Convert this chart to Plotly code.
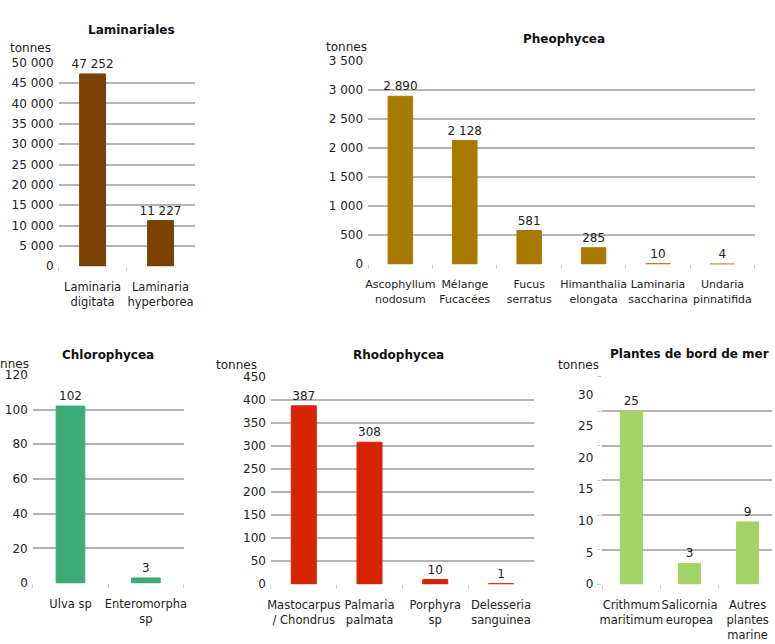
import plotly.graph_objects as go

W, H = 775, 644

# ---- data ----
lam_cats = ["Laminaria<br>digitata", "Laminaria<br>hyperborea"]
lam_vals = [47252, 11227]

pheo_cats = ["Ascophyllum<br>nodosum", "Mélange<br>Fucacées", "Fucus<br>serratus",
             "Himanthalia<br>elongata", "Laminaria<br>saccharina", "Undaria<br>pinnatifida"]
pheo_vals = [2890, 2128, 581, 285, 10, 4]

chloro_cats = ["Ulva sp", "Enteromorpha<br>sp"]
chloro_vals = [102, 3]

rhodo_cats = ["Mastocarpus<br>/ Chondrus", "Palmaria<br>palmata", "Porphyra<br>sp", "Delesseria<br>sanguinea"]
rhodo_vals = [387, 308, 10, 1]

plantes_cats = ["Crithmum<br>maritimum", "Salicornia<br>europea", "Autres<br>plantes<br>marine"]
plantes_vals = [25, 3, 9]

titles = ["Laminariales", "Pheophycea", "Chlorophycea", "Rhodophycea", "Plantes de bord de mer"]
colors = ["#7A4100", "#A87A00", "#3DAA78", "#D92300", "#A2D465"]

FONT = "DejaVu Sans"
TXT = "#222222"
GRID = "#b4b4b4"


def px(x):
    return x / W


def py(y):
    return 1 - y / H


fig = go.Figure()

panels = [
    # cats, vals, x-domain px, y-domain px (bottom, top), yrange, dtick, xrange, xtick size
    (lam_cats, lam_vals, (56, 193), (265, 57), (0, 50000), 5000, None, 11.5),
    (pheo_cats, pheo_vals, (368, 757.5), (263, 55), (0, 3500), 500, None, 11),
    (chloro_cats, chloro_vals, (30, 182), (589, 376), (0, 120), 20, None, 11.5),
    (rhodo_cats, rhodo_vals, (270, 535), (590, 378), (0, 450), 50, None, 11.5),
    (plantes_cats, plantes_vals, (604, 775), (590, 378), (0, 30), 5, (-0.5, 2.42), 11.5),
]

layout_axes = {}
for i, (cats, vals, xd, yd, yr, dt, xr, fs) in enumerate(panels):
    n = i + 1
    xa = "x" if n == 1 else f"x{n}"
    ya = "y" if n == 1 else f"y{n}"
    fig.add_trace(go.Bar(
        x=cats, y=vals, xaxis=xa, yaxis=ya,
        marker=dict(color=colors[i], line=dict(color=colors[i], width=1)),
        width=0.38,
        text=vals, texttemplate="%{y:,}", textposition="outside",
        textfont=dict(family=FONT, size=12, color=TXT),
        constraintext="none",
        cliponaxis=False, showlegend=False, hoverinfo="skip",
    ))
    xkey = "xaxis" if n == 1 else f"xaxis{n}"
    ykey = "yaxis" if n == 1 else f"yaxis{n}"
    layout_axes[xkey] = dict(
        domain=[px(xd[0]), px(xd[1])], anchor=ya,
        showgrid=False, zeroline=False, showline=False,
        ticks="outside", ticklen=4, tickcolor="#d0d0d0", tickson="boundaries",
        tickangle=0,
        tickfont=dict(family=FONT, size=fs, color=TXT),
        ticklabelstandoff=12, fixedrange=True,
        **({"range": list(xr)} if xr else {}),
    )
    ydict = dict(
        domain=[py(yd[0]), py(yd[1])], anchor=xa,
        range=list(yr), dtick=dt, tick0=0,
        showgrid=True, gridcolor=GRID, gridwidth=1.5,
        zeroline=True, zerolinecolor="white", zerolinewidth=2,
        showline=False, tickformat=",d",
        tickfont=dict(family=FONT, size=12, color=TXT),
        ticks="", ticklabelstandoff=4, fixedrange=True,
    )
    if n == 5:
        # gridlines + small marks on this axis, labels on an overlay axis
        ydict.update(showticklabels=False, ticks="outside", ticklen=4, tickcolor="#c8c8c8")
    layout_axes[ykey] = ydict

# overlay label axis for the last panel (labels are offset from gridlines in the source)
fig.add_trace(go.Scatter(x=plantes_cats, y=plantes_vals, xaxis="x5", yaxis="y6",
                         mode="markers", marker=dict(opacity=0), showlegend=False,
                         hoverinfo="skip"))
layout_axes["yaxis6"] = dict(
    overlaying="y5", anchor="x5", side="left",
    range=[0, 30 * (590 - 378) / (590 - 396)], dtick=5, tick0=0,
    showgrid=False, zeroline=False, showline=False,
    tickfont=dict(family=FONT, size=12, color=TXT),
    ticks="", ticklabelstandoff=8, fixedrange=True,
)

annotations = []
title_pos = [(129, 24), (565, 33), (106, 356), (399, 356), (692, 355)]
for t, (x, y) in zip(titles, title_pos):
    annotations.append(dict(text=f"<b>{t}</b>", x=px(x), y=py(y), xref="paper", yref="paper",
                            xanchor="center", yanchor="middle", showarrow=False,
                            font=dict(family=FONT, size=12, color="#111111")))
ton_pos = [(50, 42), (369, 41), (28, 365), (258, 366), (603, 366)]
for (x, y) in ton_pos:
    annotations.append(dict(text="tonnes", x=px(x), y=py(y), xref="paper", yref="paper",
                            xanchor="right", yanchor="middle", showarrow=False,
                            font=dict(family=FONT, size=12, color=TXT)))

fig.update_layout(
    width=W, height=H, margin=dict(l=0, r=0, t=0, b=0),
    paper_bgcolor="white", plot_bgcolor="white",
    separators=", ", bargap=0.6,
    annotations=annotations,
    **layout_axes,
)

fig.write_html("out.html", config={"displayModeBar": False},
               post_script="document.body.style.margin='0';document.body.style.overflow='hidden';")
